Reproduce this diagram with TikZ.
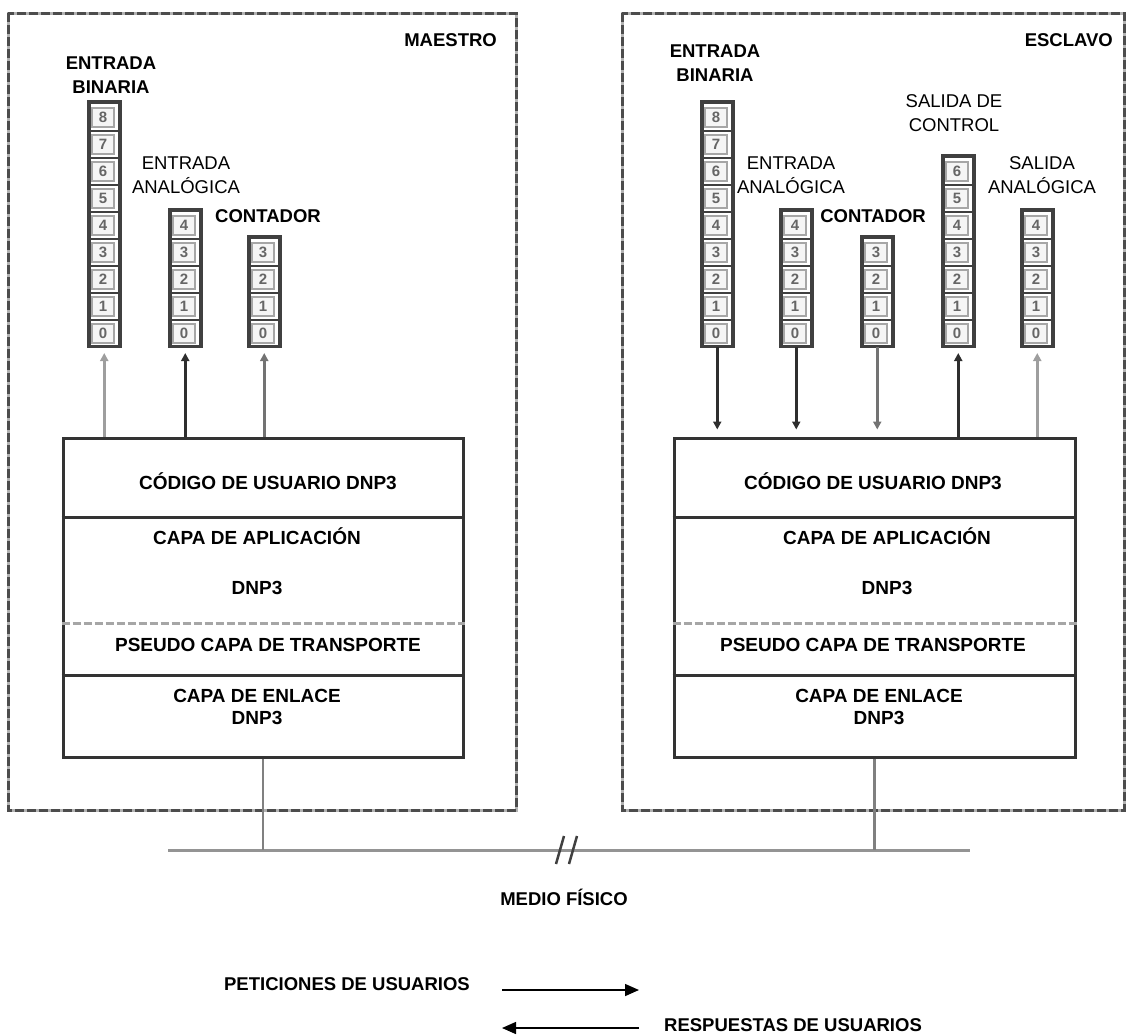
\documentclass[tikz,border=0pt]{standalone}
\usepackage{fontspec}
\setmainfont{Liberation Sans}
\usetikzlibrary{arrows.meta,calc}
\newcommand\szlbl{\fontsize{18.5}{23.5}\selectfont}
\newcommand\szlay{\fontsize{19}{22.5}\selectfont}
\newcommand\szdig{\fontsize{15}{16}\selectfont}
\tikzset{
  stackbox/.style={draw=black!75, line width=2.5pt, fill=white, minimum width=30pt, inner sep=0pt},
  cellin/.style={draw=black!35, line width=1.4pt, fill=black!4},
  celldiv/.style={draw=black!75, line width=2pt},
  digit/.style={font=\szdig\bfseries, text=black!60, inner sep=0pt},
  laybox/.style={draw=black!80, line width=3pt, fill=white, inner sep=0pt},
  laydiv/.style={draw=black!80, line width=2.5pt},
  laydash/.style={draw=black!35, line width=2.5pt, dash pattern=on 8pt off 3pt},
  laytxt/.style={font=\szlay\bfseries, align=center, inner sep=0pt},
  lbl/.style={font=\szlbl, align=center, inner sep=0pt},
  blbl/.style={font=\szlbl\bfseries, align=center, inner sep=0pt},
  outerbg/.style={draw=black!30, line width=3pt},
  outerfg/.style={draw=black!70, line width=3pt, dash pattern=on 9pt off 3pt},
  conn/.style={line width=2.8pt},
  upar/.style={conn, -{Triangle[length=8pt,width=8pt]}},
  dnar/.style={conn, -{Triangle[length=8pt,width=8pt]}},
  dark/.style={draw=black!82, fill=black!82},
  mid/.style={draw=black!55, fill=black!55},
  light/.style={draw=black!38, fill=black!38},
  bus/.style={draw=black!42, line width=3pt},
  legar/.style={draw=black, line width=1.5pt, -{Triangle[length=14pt,width=12pt]}},
}
\newcommand\mkstack[3]{%
  \node[stackbox, minimum height=#3*27pt, anchor=south west] (#1) at (#2,347) {};
  \pgfmathtruncatemacro\nlast{#3-1}
  \foreach \i in {0,...,\nlast}{
    \draw[cellin] ({#2+4},{343-27*\i}) rectangle ({#2+26},{324-27*\i});
    \node[digit] at ({#2+15},{333.5-27*\i}) {\i};
  }
  \ifnum#3>1
  \pgfmathtruncatemacro\nsep{#3-1}
  \foreach \i in {1,...,\nsep}{
    \draw[celldiv] (#2,{347-27*\i}) -- ({#2+30},{347-27*\i});
  }
  \fi
  \draw[draw=black!75, line width=2.5pt] (#1.south west) rectangle (#1.north east);
}
\begin{document}
\begin{tikzpicture}[x=1pt,y=-1pt]
\useasboundingbox (0,0) rectangle (1127,1034);

% outer dashed frames
\draw[outerbg] (8,13) rectangle (516,810);
\draw[outerfg] (8,13) rectangle (516,810);
\draw[outerbg] (622,13) rectangle (1124,810);
\draw[outerfg] (622,13) rectangle (1124,810);

\node[blbl, anchor=east] (maestro) at (497,40) {MAESTRO};
\node[blbl, anchor=east] (esclavo) at (1113,40) {ESCLAVO};

% ---------- master stacks
\mkstack{mbin}{88}{9}
\mkstack{mana}{169}{5}
\mkstack{mcnt}{248}{4}
\node[blbl] (mbinl) at (111,75) {ENTRADA\\BINARIA};
\node[lbl] (manal) at (186,175) {ENTRADA\\ANALÓGICA};
\node[blbl] (mcntl) at (268,216) {CONTADOR};

% ---------- slave stacks
\mkstack{sbin}{701}{9}
\mkstack{sana}{780}{5}
\mkstack{scnt}{861}{4}
\mkstack{sctl}{942}{7}
\mkstack{saou}{1021}{5}
\node[blbl] (sbinl) at (715,63) {ENTRADA\\BINARIA};
\node[lbl] (sanal) at (791,175) {ENTRADA\\ANALÓGICA};
\node[blbl] (scntl) at (873,216) {CONTADOR};
\node[lbl] (sctll) at (954,113) {SALIDA DE\\CONTROL};
\node[lbl] (saoul) at (1042,175) {SALIDA\\ANALÓGICA};

% ---------- layer boxes
\node[laybox, minimum width=400pt, minimum height=319pt] (mst) at (263,597.5) {};
\node[laybox, minimum width=401pt, minimum height=319pt] (sst) at (874.5,597.5) {};
\foreach \s in {mst,sst}{
  \draw[laydiv] ($(\s.north west)+(0,81)$) -- ($(\s.north east)+(0,81)$);
  \draw[laydash] ($(\s.north west)+(0,187)$) -- ($(\s.north east)+(0,187)$);
  \draw[laydiv, line width=3pt] ($(\s.north west)+(0,239)$) -- ($(\s.north east)+(0,239)$);
}
\node[laytxt] (mcode) at (268,481) {CÓDIGO DE USUARIO DNP3};
\node[laytxt] (mapp) at (257,561) {CAPA DE APLICACIÓN\\[28pt]DNP3};
\node[laytxt] (mtra) at (268,645) {PSEUDO CAPA DE TRANSPORTE};
\node[laytxt] (mlnk) at (257,707) {CAPA DE ENLACE\\DNP3};
\node[laytxt] (scode) at (873,481) {CÓDIGO DE USUARIO DNP3};
\node[laytxt] (sapp) at (887,561) {CAPA DE APLICACIÓN\\[28pt]DNP3};
\node[laytxt] (stra) at (873,645) {PSEUDO CAPA DE TRANSPORTE};
\node[laytxt] (slnk) at (879,707) {CAPA DE ENLACE\\DNP3};

% ---------- master connectors (up)
\draw[upar, light] (mst.north -| mbin.south) -- ($(mbin.south)+(0,6)$);
\draw[upar, dark] (mst.north -| mana.south) -- ($(mana.south)+(0,6)$);
\draw[upar, mid] (mst.north -| mcnt.south) -- ($(mcnt.south)+(0,6)$);

% ---------- slave connectors
\draw[dnar, dark] (sbin.south) -- ($(sst.north -| sbin.south)+(0,-7)$);
\draw[dnar, dark] (sana.south) -- ($(sst.north -| sana.south)+(0,-7)$);
\draw[dnar, mid] (scnt.south) -- ($(sst.north -| scnt.south)+(0,-7)$);
\draw[upar, dark] (sst.north -| sctl.south) -- ($(sctl.south)+(0,6)$);
\draw[upar, light] (sst.north -| saou.south) -- ($(saou.south)+(0,6)$);

% ---------- physical medium
\coordinate (busL) at (168,850);
\coordinate (busR) at (970,850);
\draw[bus] (busL) -- (busR);
\draw[bus, line width=2.5pt, draw=black!50] (mst.south) -- (mst.south |- busL);
\draw[bus, line width=2.5pt, draw=black!50] (sst.south) -- (sst.south |- busL);
\coordinate (brk) at (567,850);
\draw[draw=black!75, line width=2.5pt] ($(brk)+(-11,14)$) -- ($(brk)+(-3,-14)$);
\draw[draw=black!75, line width=2.5pt] ($(brk)+(2,14)$) -- ($(brk)+(10,-14)$);
\node[blbl] (medio) at (564,897) {MEDIO FÍSICO};

% ---------- legend
\node[blbl, anchor=east] (pet) at (470,984) {PETICIONES DE USUARIOS};
\coordinate (petA) at (502,990);
\coordinate (petB) at (639,990);
\draw[legar] (petA) -- (petB);
\coordinate (resA) at (639,1028);
\coordinate (resB) at (502,1028);
\draw[legar] (resA) -- (resB);
\node[blbl, anchor=west] (res) at (664,1025) {RESPUESTAS DE USUARIOS};
\end{tikzpicture}
\end{document}
